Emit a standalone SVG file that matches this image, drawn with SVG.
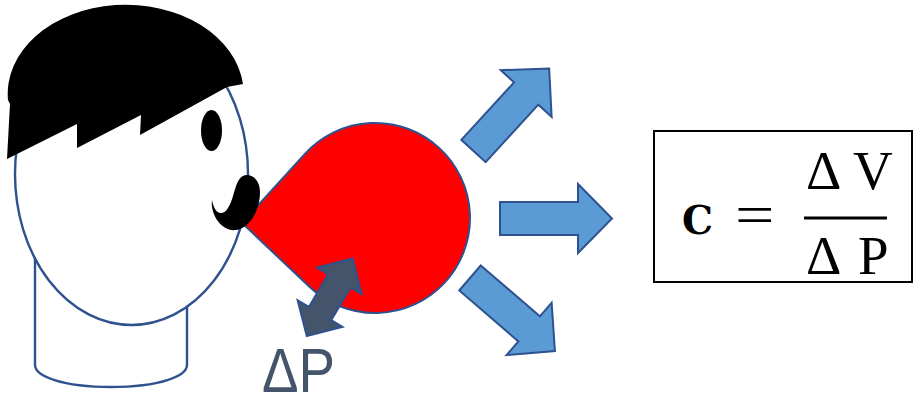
<svg xmlns="http://www.w3.org/2000/svg" width="915" height="400" viewBox="0 0 915 400">
  <defs>
    <style>
      .outline { stroke: #2F528F; stroke-width: 2.4; stroke-linejoin: miter; }
      .skin { fill: #FFFFFF; }
      .flow { fill: #5B9BD5; stroke: #2F528F; stroke-width: 2; stroke-linejoin: miter; }
      .math { font-family: "Liberation Serif", "DejaVu Serif", serif; fill: #000000; }
    </style>
    <filter id="soft" x="-10%" y="-10%" width="120%" height="120%">
      <feGaussianBlur stdDeviation="0.7"/>
    </filter>
    <polygon id="blockArrow" points="0,-16.5 78,-16.5 78,-34.5 112,0 78,34.5 78,16.5 0,16.5"/>
  </defs>

  <rect width="915" height="400" fill="#FFFFFF"/>

  <!-- person blowing into the balloon -->
  <g id="person">
    <path id="neck" class="skin outline" d="M35,240 L35,365 C35,376 62,387 111,387 C160,387 187,376 187,365 L187,240"/>
    <ellipse id="head" class="skin outline" cx="131.5" cy="174" rx="116.5" ry="151"/>
    <path id="hair" fill="#000000" d="M7,159 L10,104 L8,100 A118,89 0 0,1 243,84 L227,87 L140,135 L141,115 L77,148 L77,124 Z"/>
    <ellipse id="eye" cx="211.5" cy="130.5" rx="10.5" ry="20.5" fill="#000000"/>
  </g>

  <!-- balloon -->
  <g id="balloon">
    <path fill="#FF0000" stroke="#2F528F" stroke-width="2" d="M242,223 L304.7,154.1 A95,95 0 1,1 309.7,287 Z"/>
  </g>

  <g id="mustache">
    <path fill="#000000" filter="url(#soft)" d="M212,200 C210,215 222,232 236,230 C250,228 260,210 260,192 C260,180 252,174 246,175 C238,176 236,186 233,196 C230,206 226,214 220,213 C215,212 213,205 212,200 Z"/>
  </g>

  <!-- pressure change -->
  <g id="pressure">
    <polygon fill="#44546A" stroke="#2F528F" stroke-width="2" transform="translate(329.7,297.2) rotate(-59.4)"
      points="45,0 19,-26 19,-13 -19,-13 -19,-26 -45,0 -19,26 -19,13 19,13 19,26"/>
    <text x="262" y="392" font-family="'Liberation Sans', Arial, sans-serif" font-size="63" fill="#44546A" textLength="73" lengthAdjust="spacingAndGlyphs">ΔP</text>
  </g>

  <!-- volume expansion arrows -->
  <g id="expansion">
    <use href="#blockArrow" class="flow" transform="translate(473.5,151) rotate(-47.5)"/>
    <use href="#blockArrow" class="flow" transform="translate(500,218.5)"/>
    <use href="#blockArrow" class="flow" transform="translate(470,278) rotate(40.7)"/>
  </g>

  <!-- compliance formula -->
  <g id="formula">
    <rect x="654" y="131" width="258" height="151" fill="#FFFFFF" stroke="#000000" stroke-width="2"/>
    <text x="682" y="234" font-family="'DejaVu Serif', 'Liberation Serif', serif" font-size="39" font-weight="bold" fill="#000000">C</text>
    <text class="math" transform="translate(735,234) scale(1.25,1)" x="0" y="0" font-size="56">=</text>
    <rect x="804" y="216.5" width="83" height="3" fill="#000000"/>
    <text class="math" x="806" y="189" font-size="55">Δ</text>
    <text class="math" x="853" y="189" font-size="55">V</text>
    <text class="math" x="806" y="274" font-size="55">Δ</text>
    <text class="math" x="858" y="274" font-size="55">P</text>
  </g>
</svg>
